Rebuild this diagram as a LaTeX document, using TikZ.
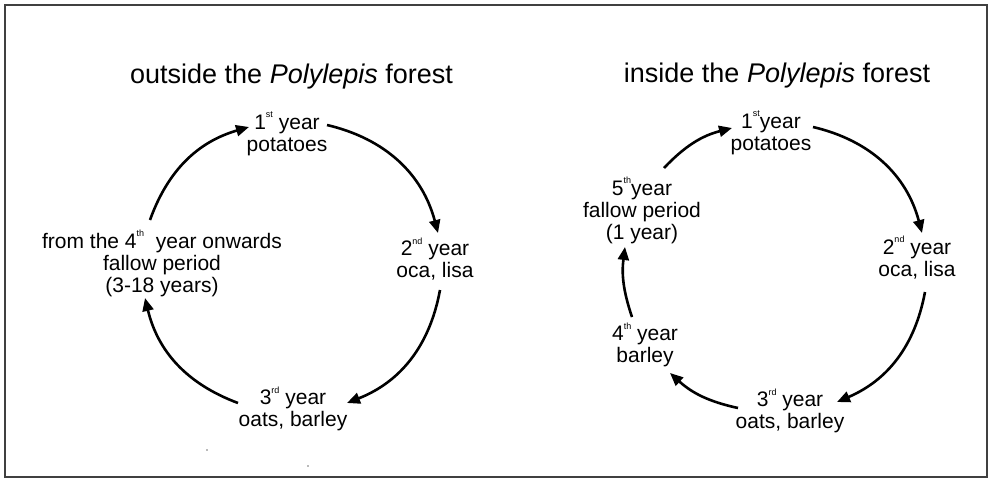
\documentclass[tikz,border=0pt]{standalone}
\usepackage{fontspec}
\setmainfont{Liberation Sans}
\usetikzlibrary{arrows.meta}
\newcommand{\ordsup}[1]{\raisebox{0.55em}{\fontsize{9}{9}\selectfont #1}}
\begin{document}
\begin{tikzpicture}[x=1pt,y=-1pt,
  lbl/.style={align=center,inner sep=0pt,font=\fontsize{21}{22}\selectfont},
  ttl/.style={inner sep=0pt,anchor=base,font=\fontsize{27}{30}\selectfont},
  cyc/.style={line width=2.6pt,-{Triangle[length=13pt,width=11pt]}},
  speck/.style={fill=black!55},
]
\useasboundingbox (0,0) rectangle (991,479);
\draw[line width=1.3pt, black!75] (5,5) rectangle (987,477);

% ---------- left diagram ----------
\node[ttl] (tL) at (291.5,83) {outside the \textit{Polylepis} forest};
\node[lbl] (L1) at (287,133.5) {1\ordsup{st} year\\potatoes};
\node[lbl] (L2) at (435,259) {2\ordsup{nd} year\\oca, lisa};
\node[lbl] (L3) at (293,409) {3\ordsup{rd} year\\oats, barley};
\node[lbl] (L4) at (162,263.5) {from the 4\ordsup{th}\ \ year onwards\\fallow period\\(3-18 years)};

\coordinate (a1s) at (150,220); \coordinate (a1e) at (249,127);
\coordinate (a2s) at (327,125); \coordinate (a2e) at (438,233);
\coordinate (a3s) at (440,290); \coordinate (a3e) at (347,403);
\coordinate (a4s) at (238,403); \coordinate (a4e) at (145,298);
\draw[cyc] (a1s) to[bend left=27] (a1e);
\draw[cyc] (a2s) to[bend left=31] (a2e);
\draw[cyc] (a3s) to[bend left=29] (a3e);
\draw[cyc] (a4s) to[bend left=28] (a4e);

% ---------- right diagram ----------
\node[ttl] (tR) at (777,82) {inside the \textit{Polylepis} forest};
\node[lbl] (R1) at (771,133) {1\ordsup{st}year\\potatoes};
\node[lbl] (R2) at (917,257.5) {2\ordsup{nd} year\\oca, lisa};
\node[lbl] (R3) at (790,411) {3\ordsup{rd} year\\oats, barley};
\node[lbl] (R4) at (645,345) {4\ordsup{th} year\\barley};
\node[lbl] (R5) at (642,210.5) {5\ordsup{th}year\\fallow period\\(1 year)};

\coordinate (b1s) at (664,168); \coordinate (b1e) at (732,128);
\coordinate (b2s) at (813,127); \coordinate (b2e) at (922,233);
\coordinate (b3s) at (925,292); \coordinate (b3e) at (837,402);
\coordinate (b4s) at (738,408); \coordinate (b4e) at (670,373);
\coordinate (b5s) at (632,317); \coordinate (b5e) at (625,247);
\draw[cyc] (b1s) to[bend left=16] (b1e);
\draw[cyc] (b2s) to[bend left=31] (b2e);
\draw[cyc] (b3s) to[bend left=28] (b3e);
\draw[cyc] (b4s) to[bend left=15] (b4e);
\draw[cyc] (b5s) to[bend left=13] (b5e);

% scan specks
\fill[speck] (207,450) circle (0.9);
\fill[speck] (308,466) circle (0.9);
\end{tikzpicture}
\end{document}
